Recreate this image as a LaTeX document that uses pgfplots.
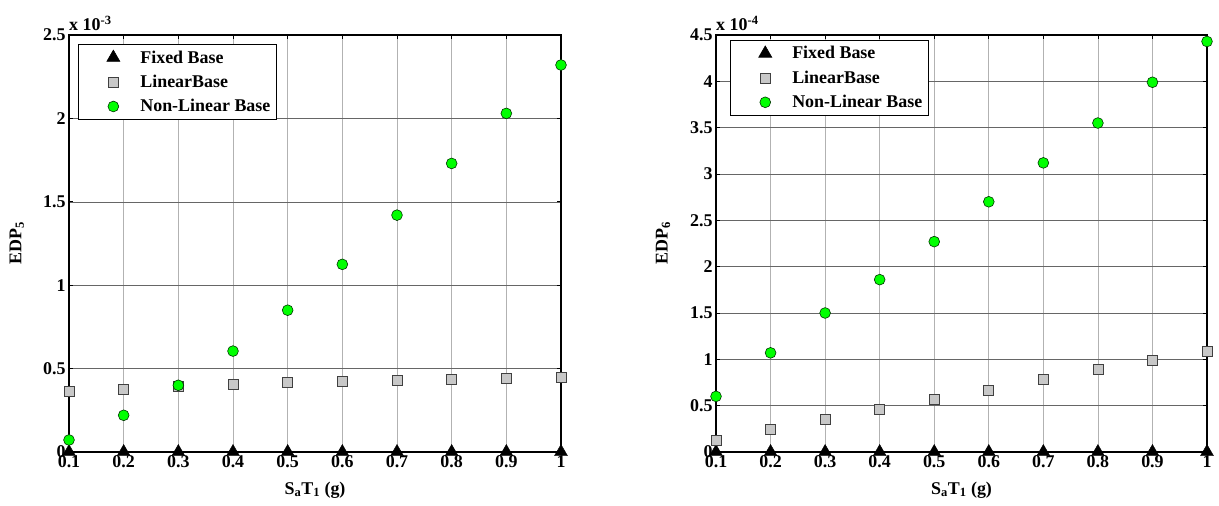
\documentclass[border=0pt]{standalone}
\usepackage{pgfplots}
\usepackage{pgfplotstable}
\pgfplotsset{compat=1.18}
\usepackage{fontspec}
\setmainfont{Liberation Serif}

\pgfplotstableread{
x fixed lin nonlin
0.1 0 0.366 0.072
0.2 0 0.378 0.220
0.3 0 0.392 0.400
0.4 0 0.405 0.605
0.5 0 0.415 0.850
0.6 0 0.422 1.125
0.7 0 0.430 1.420
0.8 0 0.436 1.730
0.9 0 0.442 2.030
1.0 0 0.446 2.320
}\leftdata

\pgfplotstableread{
x fixed lin nonlin
0.1 0 0.13 0.60
0.2 0 0.24 1.07
0.3 0 0.35 1.50
0.4 0 0.46 1.86
0.5 0 0.57 2.27
0.6 0 0.67 2.70
0.7 0 0.78 3.12
0.8 0 0.89 3.55
0.9 0 0.99 3.99
1.0 0 1.09 4.43
}\rightdata

\definecolor{mkgreen}{RGB}{0,255,0}
\definecolor{mkgray}{RGB}{200,200,200}

\pgfplotsset{
  myaxis/.style={
    scale only axis,
    width=492bp, height=417bp,
    xmin=0.1, xmax=1, ymin=0,
    xtick={0.1,0.2,...,1.0},
    xticklabels={0.1,0.2,0.3,0.4,0.5,0.6,0.7,0.8,0.9,1},
    clip=false,
    grid=major,
    x grid style={gray!60, line width=0.8bp},
    y grid style={gray!80!black, line width=0.5bp},
    axis line style={line width=1.2bp},
    tick align=inside,
    major tick length=4bp,
    tick style={black, line width=0.6bp},
    /pgf/number format/assume math mode=true,
    /pgf/number format/fixed,
    tick label style={font=\fontsize{18}{21}\selectfont\bfseries},
    label style={font=\fontsize{18}{21}\selectfont\bfseries},
    xlabel={S\textsubscript{a}T\textsubscript{1} (g)},
    xlabel style={at={(axis description cs:0.5,-0.091)}, anchor=center},
    legend cell align=left,
    legend style={at={(axis description cs:0.018,0.978)}, anchor=north west,
      draw=black, line width=1bp, font=\fontsize{18}{21}\selectfont\bfseries,
      row sep=6.5bp, inner xsep=4bp, inner ysep=4bp},
    legend image code/.code={\path[draw=none] (0bp,0bp) -- (56bp,0bp); \path[#1, line width=0.6bp] plot[only marks] coordinates {(31bp,0bp)};},
  },
  fixedst/.style={only marks, mark=triangle*, mark size=7.5bp, mark options={fill=black, draw=black}},
  linst/.style={only marks, mark=square*, mark size=5bp, mark options={fill=mkgray, draw=black!75, line width=0.6bp}},
  nonst/.style={only marks, mark=*, mark size=5.4bp, mark options={fill=mkgreen, draw=black!80!green, line width=0.6bp}},
}

\begin{document}
\begin{tikzpicture}[x=1bp,y=1bp]
\useasboundingbox (0,0) rectangle (1219,506);
\begin{axis}[myaxis, at={(69bp,54bp)}, anchor=south west,
  ymax=2.5, ytick={0,0.5,1,1.5,2,2.5},
  ylabel={EDP\textsubscript{5}},
  ylabel style={at={(axis description cs:-0.106,0.5)}, anchor=center}]
\addplot[fixedst] table[x=x,y=fixed] {\leftdata};
\addlegendentry{Fixed Base}
\addplot[linst] table[x=x,y=lin] {\leftdata};
\addlegendentry{LinearBase}
\addplot[nonst] table[x=x,y=nonlin] {\leftdata};
\addlegendentry{Non-Linear Base}
\node[anchor=south west, inner sep=0pt, font=\fontsize{18}{21}\selectfont\bfseries] at (rel axis cs:0,1) [yshift=4bp] {x 10\textsuperscript{-3}};
\end{axis}
\begin{axis}[myaxis, at={(716bp,54bp)}, anchor=south west,
  width=491bp,
  ymax=4.5, ytick={0,0.5,1,1.5,2,2.5,3,3.5,4,4.5},
  ylabel={EDP\textsubscript{6}},
  ylabel style={at={(axis description cs:-0.108,0.5)}, anchor=center},
  legend style={at={(axis description cs:0.028,0.988)}}]
\addplot[fixedst] table[x=x,y=fixed] {\rightdata};
\addlegendentry{Fixed Base}
\addplot[linst] table[x=x,y=lin] {\rightdata};
\addlegendentry{LinearBase}
\addplot[nonst] table[x=x,y=nonlin] {\rightdata};
\addlegendentry{Non-Linear Base}
\node[anchor=south west, inner sep=0pt, font=\fontsize{18}{21}\selectfont\bfseries] at (rel axis cs:0,1) [yshift=4bp] {x 10\textsuperscript{-4}};
\end{axis}
\end{tikzpicture}
\end{document}
